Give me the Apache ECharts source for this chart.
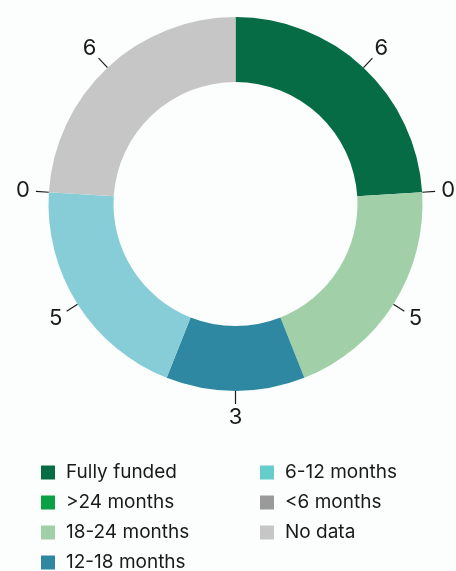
<!DOCTYPE html>
<html><head><meta charset="utf-8">
<script src="https://cdn.jsdelivr.net/npm/echarts@6/dist/echarts.min.js"></script>
<style>html,body{margin:0;padding:0;background:#fcfdfd;}#c{width:456px;height:571px;}</style>
</head><body><div id="c"></div>
<script>
const categories = ['Fully funded', '>24 months', '18-24 months', '12-18 months', '6-12 months', '<6 months', 'No data'];
const values = [6, 0, 5, 3, 5, 0, 6];
const colors = ['#056c45', '#0aa043', '#a1cfa8', '#2e88a1', '#86cdd8', '#9a9a9a', '#c6c6c6'];
const legendColors = ['#056c45', '#0aa043', '#a1cfa8', '#2e88a1', '#66cccc', '#9a9a9a', '#c6c6c6'];

const font = 'Inter, "Noto Sans", sans-serif';
const chart = echarts.init(document.getElementById('c'));
const legendItem = (i) => ({ name: categories[i], itemStyle: { color: legendColors[i] } });
const legendBase = {
  orient: 'vertical', icon: 'rect', itemWidth: 14, itemHeight: 14, itemGap: 11,
  padding: 0, height: 140, selectedMode: false,
  textStyle: { fontFamily: font, fontSize: 19, lineHeight: 16, color: '#1a1a1a', padding: [0, 0, 0, 6] }
};
chart.setOption({
  backgroundColor: '#fcfdfd',
  animation: false,
  legend: [
    Object.assign({}, legendBase, { left: 41, top: 463, data: [0, 1, 2, 3].map(legendItem) }),
    Object.assign({}, legendBase, { left: 260, top: 463, data: [4, 5, 6].map(legendItem) })
  ],
  series: [{
    type: 'pie',
    center: [235.5, 204],
    radius: [122, 187],
    startAngle: 90,
    clockwise: true,
    minAngle: 0,
    stillShowZeroSum: true,
    avoidLabelOverlap: false,
    itemStyle: { borderWidth: 0 },
    label: {
      show: true, position: 'outside', formatter: '{c}',
      fontFamily: font, fontSize: 22, color: '#1a1a1a', distanceToLabelLine: 0
    },
    labelLine: { show: true, length: 13, length2: 0, lineStyle: { color: '#1a1a1a', width: 1.2 } },
    labelLayout: function (p) {
      const pts = p.labelLinePoints;
      if (!pts || pts.length < 2) return {};
      const a = pts[0], b = pts[1];
      const dx = b[0] - a[0], dy = b[1] - a[1];
      const len = Math.sqrt(dx * dx + dy * dy) || 1;
      const off = 13;
      return {
        x: b[0] + dx / len * off,
        y: b[1] + dy / len * off,
        align: 'center',
        verticalAlign: 'middle',
        labelLinePoints: [a, b, b]
      };
    },
    emphasis: { disabled: true },
    data: categories.map((n, i) => ({ name: n, value: values[i], itemStyle: { color: colors[i] } }))
  }]
});
</script></body></html>
